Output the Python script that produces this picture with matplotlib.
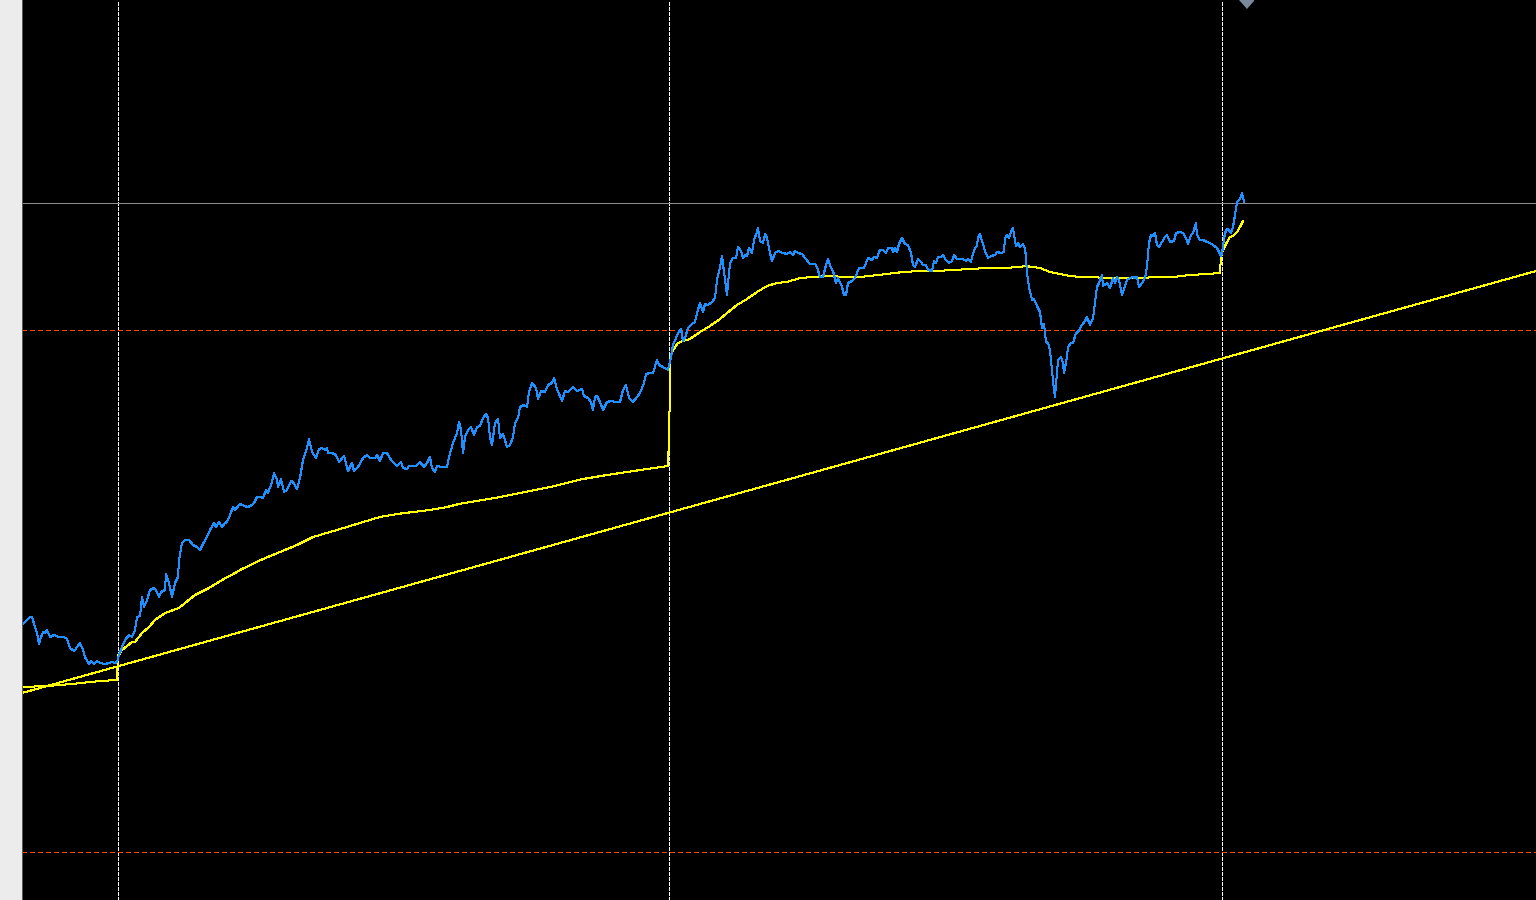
import matplotlib
matplotlib.use("Agg")
import matplotlib.pyplot as plt
import numpy as np

# price line (bar index, close)
price_t = [0, 3, 8, 10, 13, 15, 17, 18, 21, 23, 25, 28, 32, 37, 42, 45, 48, 52, 53, 55, 58, 61, 63, 67, 69, 72, 75, 78, 83, 87, 90, 93, 95,
           97, 100, 103, 107, 110, 113, 115, 118, 120, 122, 125, 128, 132, 134, 137, 139, 143, 144, 147, 150, 153, 156, 157, 160, 163,
           167, 171, 175, 178, 182, 185, 188, 192, 194, 197, 200, 203, 205, 208, 211, 213, 217, 219,
           222, 226, 230, 232, 235, 239, 241, 244, 246, 250, 252, 255, 256, 259, 262, 265, 269, 271, 275, 278, 281, 285, 287, 290,
           294, 297, 300, 303, 305, 306, 310, 314, 317, 322, 326, 330, 332, 336, 341, 345, 348, 353, 355, 358, 361, 365, 369, 375,
           379, 381, 385, 387, 394, 398, 402, 405, 408, 410, 413, 415, 420, 425, 427, 431, 435, 437,
           439, 441, 443, 446, 449, 452, 455, 458, 461, 464, 466, 468, 470, 473, 476, 478, 481, 482, 485, 488, 491, 493, 496, 498,
           502, 505, 507, 510, 514, 516, 519, 523, 526, 530, 532, 535, 540, 543, 546, 551, 555, 560, 562, 566, 569, 571, 573, 575,
           578, 581, 585, 589, 594, 598, 601, 604, 607, 611, 615, 618, 622, 624, 628, 631, 635, 637, 641, 646, 649, 651, 654, 656,
           659, 661, 663, 666, 670, 673, 675, 678, 681, 683, 686, 690, 693, 695, 698, 700, 702, 705, 708, 711, 714, 716, 719, 721,
           723, 725, 727, 730, 732, 735, 736, 738, 741, 743, 745, 748, 750, 753, 756, 761, 765, 768, 771, 773, 776, 780, 783, 788,
           793, 795, 798, 801, 804, 806, 809, 811, 814, 816, 820, 822, 824, 826, 830, 833, 837, 842, 846, 850, 852, 855, 857,
           858, 861, 864, 866, 870, 871, 873, 875, 877, 880, 883, 886, 889, 891, 893, 896, 899, 901, 904, 906, 910, 912, 914, 916,
           919, 921, 924, 927, 930, 932, 935, 941, 944, 946, 949, 950, 953, 955, 956, 958, 961, 963, 966, 969, 973, 975, 979, 982,
           983, 985, 987, 989, 991, 992, 994, 996, 998, 1001, 1003, 1004, 1005, 1007, 1010, 1012, 1015,
           1018, 1020, 1022, 1024, 1026, 1028, 1030, 1032, 1033, 1035, 1036, 1039, 1041, 1042, 1045, 1046, 1049, 1051, 1054, 1056,
           1060, 1063, 1065, 1068, 1071, 1073, 1075, 1077, 1080, 1081, 1085, 1088, 1091, 1093, 1095, 1097, 1100, 1103, 1105, 1108,
           1111, 1113, 1115, 1117, 1120, 1123, 1125, 1127, 1129, 1131, 1133, 1135, 1137, 1140, 1143, 1145, 1148, 1152, 1154, 1158,
           1161, 1164, 1166, 1169, 1171, 1174, 1175, 1178, 1181, 1185, 1188, 1191, 1195, 1197, 1199, 1201, 1202, 1204, 1206, 1209,
           1211, 1213, 1215, 1218, 1220, 1222]
price_v = [27.5, 27.8, 28.3, 28.3, 27.3, 26.7, 25.6, 26.0, 26.8, 26.7, 27.0, 26.3, 26.5, 26.3, 26.3, 26.1, 25.2, 24.9, 25.0, 25.3, 25.7, 25.0, 24.3, 23.6, 23.9, 23.6, 23.9, 23.7, 23.6, 23.7, 23.8, 23.7, 23.8,
           24.5, 25.3, 26.0, 26.5, 26.3, 27.0, 28.3, 28.4, 30.3, 29.3, 30.0, 31.0, 31.2, 31.0, 30.3, 30.8, 31.0, 32.6, 31.7, 30.3, 31.7, 32.3, 34.0, 35.7, 36.0,
           36.0, 35.5, 35.3, 35.0, 35.8, 36.3, 37.0, 37.7, 37.3, 37.8, 37.3, 37.7, 37.8, 38.5, 39.3, 39.0, 39.5, 39.6,
           39.4, 39.3, 39.5, 39.7, 40.3, 40.3, 40.2, 41.0, 40.7, 41.8, 42.7, 42.0, 41.3, 42.1, 40.8, 41.0, 41.9, 41.8, 41.1, 42.2, 44.0, 45.2, 46.1, 44.8,
           44.2, 45.1, 45.2, 45.0, 45.2, 44.7, 44.7, 44.5, 43.8, 44.4, 42.9, 43.7, 42.9, 43.3, 44.2, 44.5, 44.2, 44.2, 44.5, 43.9, 44.7, 44.7, 44.0, 43.4,
           43.8, 43.2, 43.1, 43.4, 43.4, 43.8, 43.3, 43.7, 44.3, 43.2, 42.8, 43.4, 43.3, 43.3, 44.3, 45.7, 46.7, 47.8,
           47.0, 44.7, 46.3, 47.0, 47.3, 46.5, 47.3, 47.4, 48.2, 48.6, 48.2, 46.3, 45.5, 47.7, 48.1, 46.2, 46.6, 46.3, 45.3, 45.5, 46.3, 47.7, 48.2, 49.3,
           49.5, 49.3, 50.8, 51.7, 51.2, 50.1, 50.9, 50.8, 51.5, 51.7, 52.2, 51.1, 49.9, 50.9, 50.8, 51.3, 50.9, 51.1, 50.4, 50.2, 49.8, 49.0, 50.3, 50.4,
           49.8, 49.0, 49.8, 49.9, 49.8, 49.8, 51.0, 51.5, 50.2, 49.8, 50.3, 50.7, 51.7, 52.6, 52.7, 52.7, 54.0, 53.5, 53.3, 53.0, 54.3, 55.5, 56.2, 56.7,
           57.1, 55.9, 56.2, 57.2, 57.6, 57.8, 58.7, 59.7, 58.8, 59.6, 59.5, 59.8, 60.2, 62.0, 63.3, 64.4, 62.8, 60.5, 63.7, 64.2, 64.2, 65.3, 64.9, 64.2,
           64.5, 64.4, 65.2, 64.7, 66.0, 66.8, 67.2, 65.9, 65.7, 66.6, 66.2, 64.7, 63.9, 64.7, 64.9, 64.7, 64.6, 64.8, 64.5, 64.9, 64.7, 64.6, 64.2, 63.6,
           63.6, 63.3, 62.3, 62.3, 63.5, 64.1, 63.2, 62.9, 61.7, 62.2, 61.3, 60.5, 60.5, 61.7, 61.9, 62.2, 63.2, 63.2, 64.2, 64.0, 64.3, 64.2, 64.8,
           65.0, 65.0, 64.7, 65.2, 65.2, 64.8, 65.2, 64.8, 65.6, 66.2, 65.6, 65.5, 64.7, 63.5, 63.3, 64.1, 63.8, 63.5, 63.5, 63.0, 62.9, 63.9, 63.7, 64.3,
           64.3, 64.5, 64.0, 63.7, 63.9, 64.5, 64.1, 64.1, 63.9, 64.1, 63.8, 64.3, 65.2, 65.4, 66.2, 66.6, 65.6, 64.9, 64.2, 64.4, 64.5, 64.8, 64.7, 64.8,
           66.2, 66.5, 66.2, 66.8, 67.2, 66.5, 65.4, 65.7, 65.3, 65.6, 65.1, 64.3, 62.7, 61.3, 60.0, 60.1, 59.4,
           58.8, 57.2, 57.6, 55.8, 55.7, 55.0, 53.0, 51.0, 50.3, 52.7, 54.0, 54.3, 53.7, 52.7, 54.3, 55.3, 55.7, 55.7, 56.7, 56.8,
           57.5, 57.9, 58.3, 57.5, 58.2, 59.7, 61.3, 61.7, 62.5, 61.4, 61.7, 61.2, 62.2, 61.7, 62.3, 62.0, 60.5, 61.4, 62.0, 62.2,
           62.3, 62.2, 62.3, 61.3, 61.7, 62.2, 63.3, 65.7, 66.5, 66.4, 66.7, 65.5, 65.3, 65.8, 66.3, 66.5, 65.8, 65.9, 66.7, 66.8,
           66.7, 66.2, 65.6, 66.5, 66.7, 67.7, 66.5, 66.0, 66.0, 65.8, 65.7, 65.5, 65.2, 64.8, 64.4, 65.2, 66.2, 67.0, 67.1, 66.7,
           67.3, 68.5, 69.8, 70.1, 70.7, 69.8]

# anchored average line, resets at each anchor
vwap_t = [0, 25, 50, 78, 95, 96,
          97, 100, 110, 113, 120, 127, 133, 143, 157, 163, 173, 187, 200, 213, 220, 241, 258, 275, 291, 308, 325, 341, 358,
          375, 391, 408, 425, 437, 478, 528, 561, 585, 605, 625, 646, 647, 648,
          648, 651, 656, 661, 668, 678, 688, 698, 705, 715, 725, 735, 745, 755, 765, 778, 791, 805, 825, 838, 856, 865, 881,
          898, 915, 931, 948, 965, 981, 998, 1003, 1011, 1018, 1028, 1038, 1048, 1058, 1068, 1085, 1101, 1118, 1135, 1151,
          1168, 1185, 1198,
          1199, 1201, 1205, 1208, 1211, 1215, 1218, 1221]
vwap_v = [21.3, 21.4, 21.6, 21.9, 22.0, 24.5,
          24.5, 25.0, 25.8, 25.8, 26.7, 27.3, 28.0, 28.7, 29.2, 29.7, 30.5, 31.2, 32.0, 32.7, 33.1, 34.1, 34.8, 35.5, 36.3, 36.8, 37.3, 37.8, 38.3,
          38.6, 38.8, 39.0, 39.3, 39.6, 40.3, 41.3, 42.1, 42.5, 42.8, 43.1, 43.4, 46.2, 51.5,
          54.2, 55.0, 55.7, 55.9, 56.1, 56.8, 57.4, 58.1, 58.7, 59.5, 60.1, 60.8, 61.4, 61.7, 61.8, 62.2, 62.3, 62.4, 62.3, 62.3, 62.5, 62.6, 62.8,
          62.9, 62.9, 63.0, 63.1, 63.2, 63.2, 63.3, 63.4, 63.3, 63.2, 62.8, 62.6, 62.4, 62.3, 62.3, 62.2, 62.2, 62.2, 62.3, 62.3,
          62.5, 62.6, 62.7,
          64.3, 65.0, 65.8, 66.3, 66.4, 66.8, 67.3, 67.9]

trend_t = [0, 1514]
trend_v = [20.7, 62.9]

anchors = [96, 647, 1200]
red_levels = [57.0, 4.8]
last_close_level = 69.7
marker_t = 1224

fig = plt.figure(figsize=(15.36, 9.0), dpi=100, facecolor="#ececec")
ax = fig.add_axes([22 / 1536, 0, 1 - 22 / 1536, 1])
ax.set_facecolor("black")

lw = 0.72
for a in anchors:
    ax.axvline(a, color="white", lw=lw, ls=(0, (4, 2)), antialiased=False)
for lvl in red_levels:
    ax.axhline(lvl, color="#ff4500", lw=lw, ls=(0, (5, 3)), antialiased=False)
ax.axhline(last_close_level, color="#8c8c8c", lw=lw, antialiased=False)

ax.plot(trend_t, trend_v, color="#ffff00", lw=lw, antialiased=False)
ax.plot(vwap_t, vwap_v, color="#ffff00", lw=lw, antialiased=False)
ax.plot(price_t, price_v, color="#1e90ff", lw=lw, antialiased=False)

ax.plot([marker_t], [89.6], marker=[(-1, 0.57), (1, 0.57), (0, -0.57)], markersize=10,
        color="#7a8a9a", clip_on=False, linestyle="none")

ax.set_xlim(0, 1514)
ax.set_ylim(0, 90)
ax.set_xticks([])
ax.set_yticks([])
for s in ["top", "right", "bottom"]:
    ax.spines[s].set_visible(False)
ax.spines["left"].set_color("#5a5a5a")
ax.spines["left"].set_linewidth(lw)

fig.savefig("out.png", dpi=100, facecolor=fig.get_facecolor())
